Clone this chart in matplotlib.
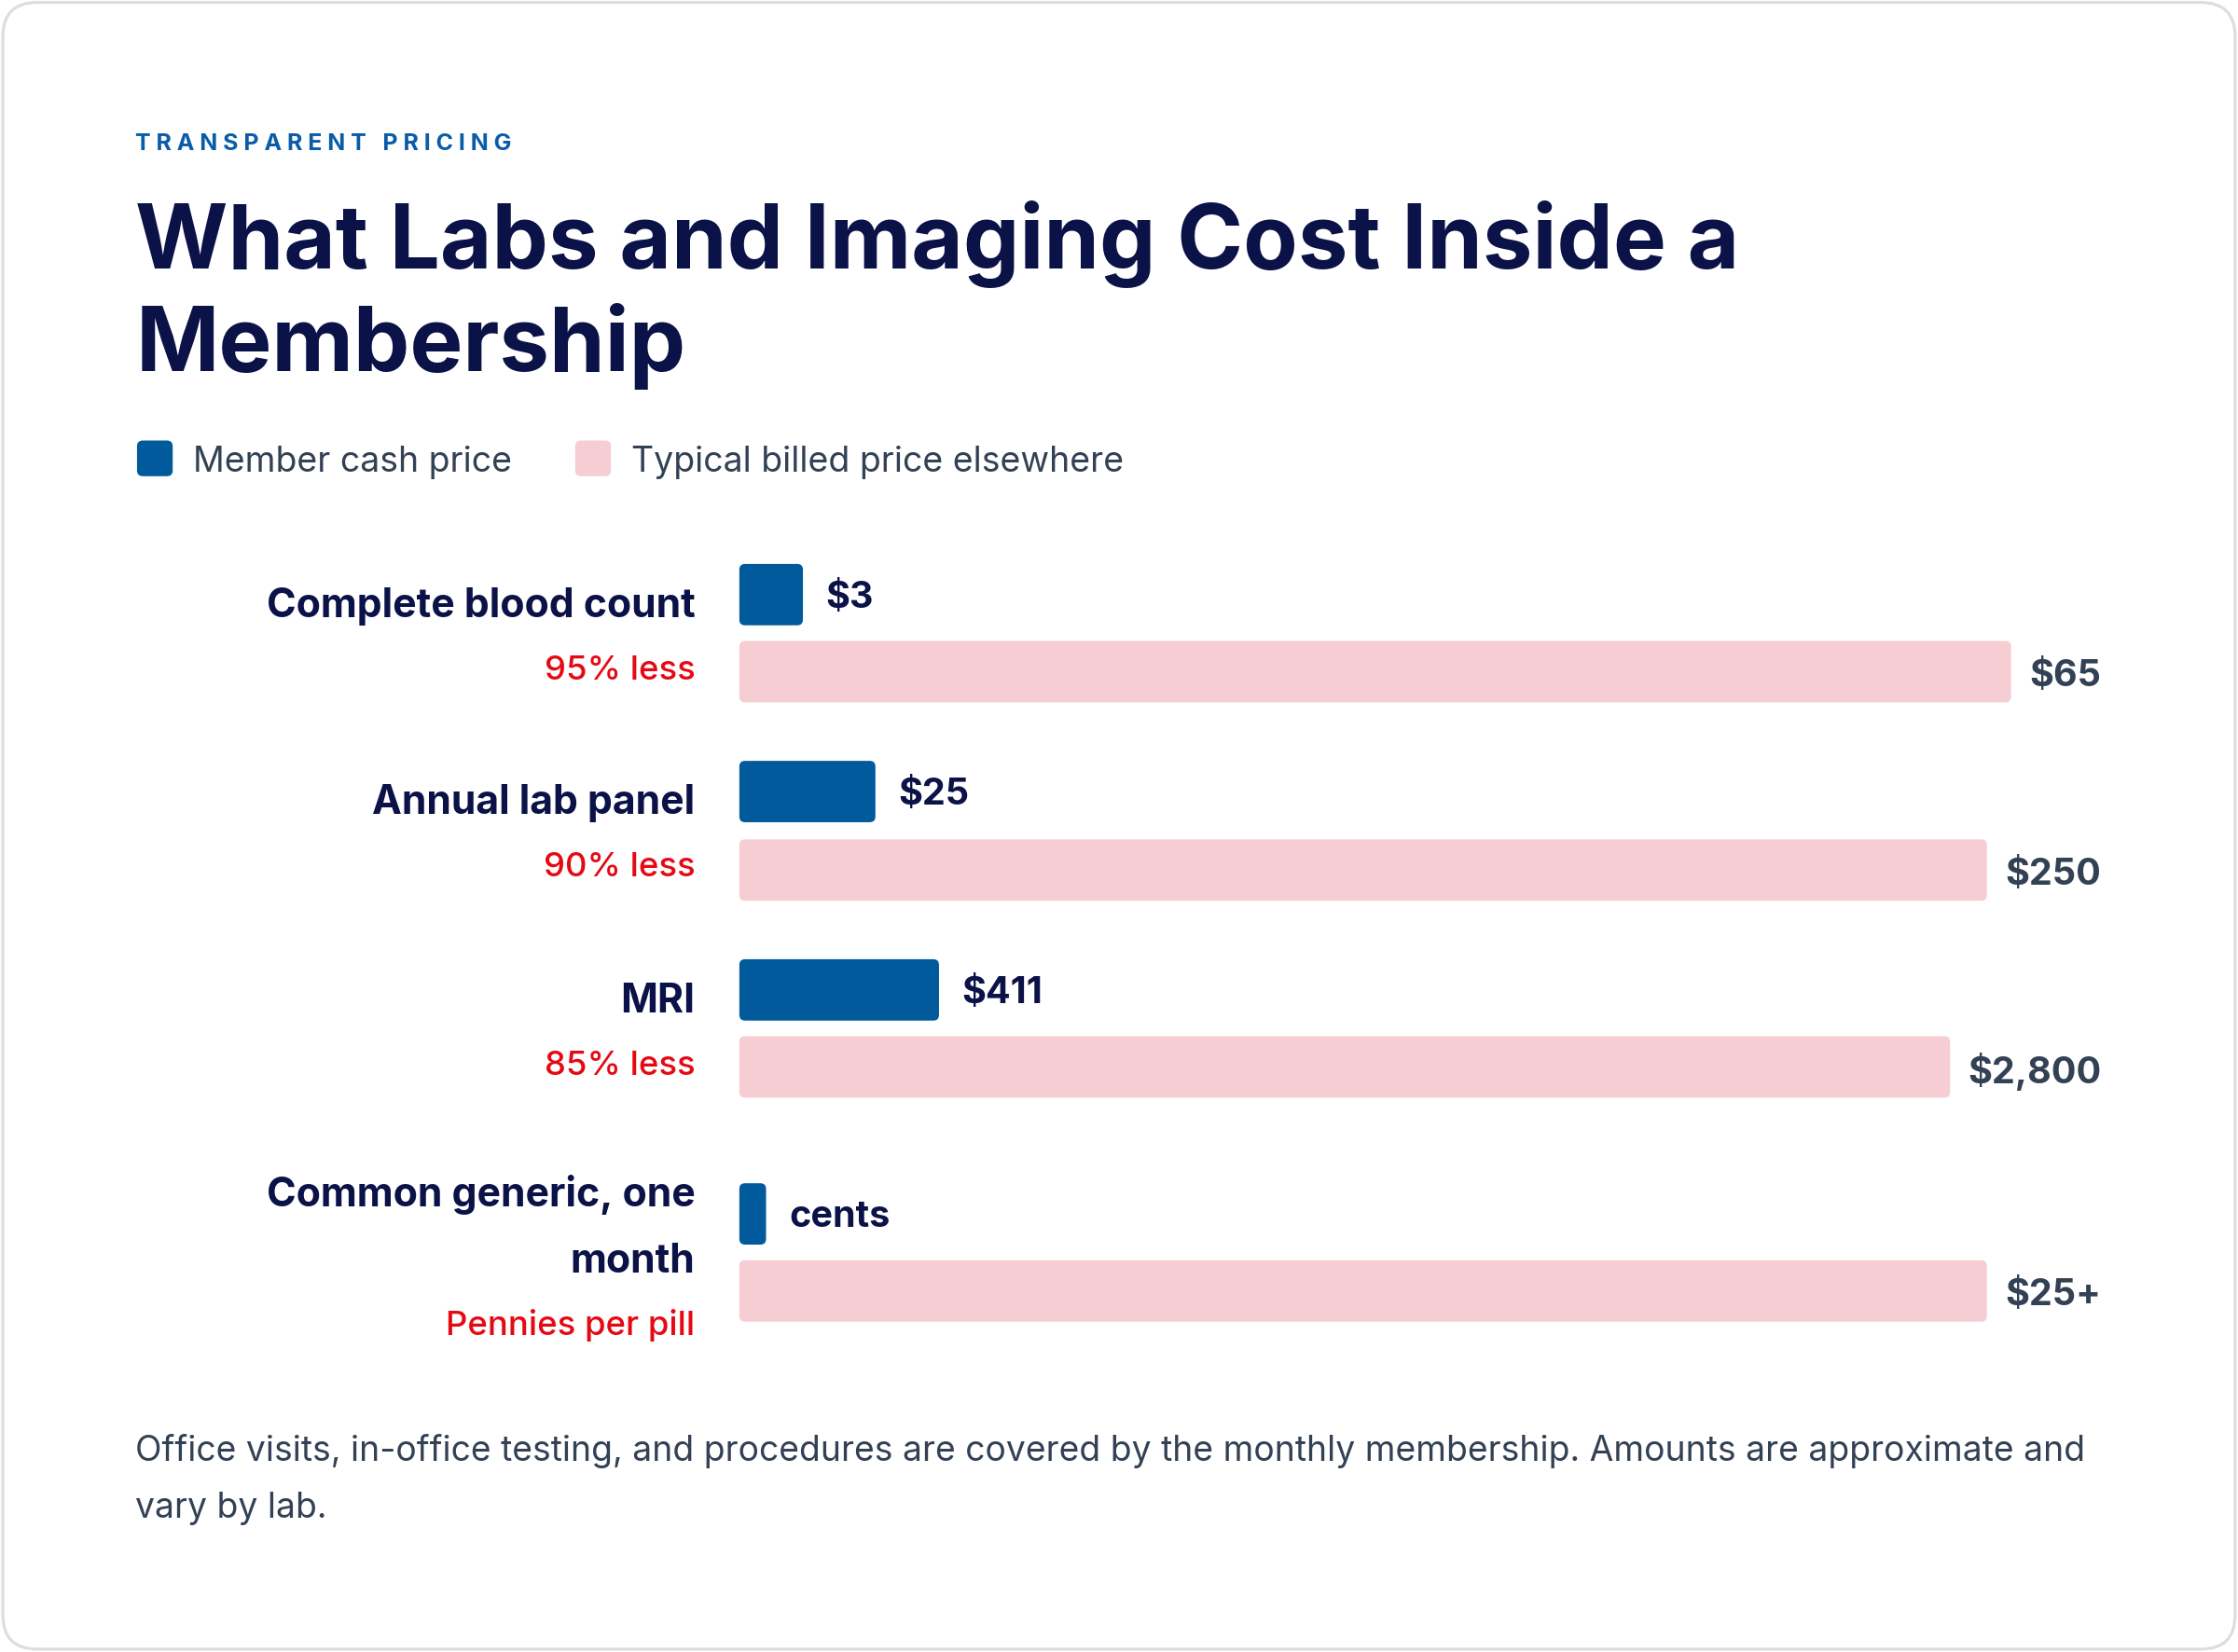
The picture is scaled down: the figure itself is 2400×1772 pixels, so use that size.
import matplotlib
matplotlib.use("Agg")
import matplotlib.pyplot as plt
from matplotlib.patches import FancyBboxPatch

plt.rcParams['font.family'] = ['Inter', 'DejaVu Sans']

categories = ["Complete blood count", "Annual lab panel", "MRI", "Common generic, one\nmonth"]
savings = ["95% less", "90% less", "85% less", "Pennies per pill"]
member_labels = ["$3", "$25", "$411", "cents"]
billed_labels = ["$65", "$250", "$2,800", "$25+"]
# bar lengths as share of the track (as drawn in the reference)
member_share = [0.05, 0.107, 0.157, 0.021]
billed_share = [1.0, 0.981, 0.952, 0.981]

W, H = 1568, 1158
fig = plt.figure(figsize=(16, 16 * H / W), dpi=150)
ax = fig.add_axes([0, 0, 1, 1])
ax.set_xlim(0, W); ax.set_ylim(H, 0); ax.axis('off')

ax.add_patch(FancyBboxPatch((2, 2), W - 4, H - 4, boxstyle="round,pad=0,rounding_size=24",
                            fc='white', ec='#dddddd', lw=1.5))

navy = '#0b1247'; blue = '#005a9c'; pink = '#f5cdd2'; red = '#e50914'; slate = '#334155'

ax.text(95, 101, "T R A N S P A R E N T   P R I C I N G",
        fontsize=12, color='#0b5ca8', fontweight='bold', va='center')
ax.text(95, 171, "What Labs and Imaging Cost Inside a", fontsize=46, color=navy, fontweight='bold', va='center')
ax.text(95, 243, "Membership", fontsize=46, color=navy, fontweight='bold', va='center')

# legend
ax.add_patch(FancyBboxPatch((96, 309), 25, 25, boxstyle="round,pad=0,rounding_size=4", fc=blue, ec='none'))
ax.text(135, 324, "Member cash price", fontsize=18, color=slate, va='center')
ax.add_patch(FancyBboxPatch((403, 309), 25, 25, boxstyle="round,pad=0,rounding_size=4", fc=pink, ec='none'))
ax.text(442, 324, "Typical billed price elsewhere", fontsize=18, color=slate, va='center')

x0, track = 518, 891
bh = 43
blue_y = [417, 555, 694, 851]
pink_y = [471, 610, 748, 905]
sub_y = [470, 608, 747, 929]
for i in range(len(categories)):
    bw = member_share[i] * track
    ax.add_patch(FancyBboxPatch((x0, blue_y[i] - bh / 2), bw, bh,
                                boxstyle="round,pad=0,rounding_size=4", fc=blue, ec='none'))
    ax.text(x0 + bw + 16, blue_y[i] + 2, member_labels[i], fontsize=19, color=navy, fontweight='bold', va='center')
    pw = billed_share[i] * track
    ax.add_patch(FancyBboxPatch((x0, pink_y[i] - bh / 2), pw, bh,
                                boxstyle="round,pad=0,rounding_size=4", fc=pink, ec='none'))
    ax.text(1472, pink_y[i] + 3, billed_labels[i], fontsize=19, color=slate, fontweight='bold', va='center', ha='right')
    lines = categories[i].split("\n")
    if len(lines) == 1:
        ax.text(487, blue_y[i] + 8, lines[0], fontsize=20.5, color=navy, fontweight='bold', va='center', ha='right')
    else:
        ax.text(487, 837, lines[0], fontsize=20.5, color=navy, fontweight='bold', va='center', ha='right')
        ax.text(487, 884, lines[1], fontsize=20.5, color=navy, fontweight='bold', va='center', ha='right')
    ax.text(487, sub_y[i], savings[i], fontsize=17.5, color=red, fontweight='medium', va='center', ha='right')

ax.text(95, 1017, "Office visits, in-office testing, and procedures are covered by the monthly membership. Amounts are approximate and",
        fontsize=17.9, color=slate, va='center')
ax.text(95, 1057, "vary by lab.", fontsize=17.9, color=slate, va='center')

fig.savefig("out.png", dpi=150)
